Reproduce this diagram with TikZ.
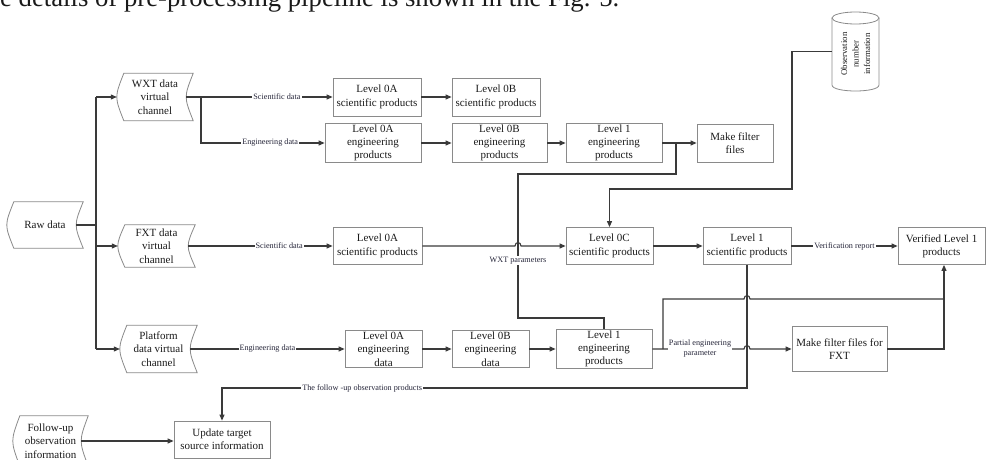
\documentclass[tikz,border=0pt]{standalone}
\usepackage{fontspec}
\setmainfont{Liberation Serif}
\usetikzlibrary{arrows.meta,calc}
\definecolor{boxgray}{HTML}{8A8A8A}
\definecolor{linegray}{HTML}{3A3A3A}
\definecolor{txtcol}{HTML}{1A1A1A}
\definecolor{labcol}{HTML}{26263A}
\begin{document}
\begin{tikzpicture}[x=1pt,y=-1pt,
  box/.style={draw=boxgray, line width=0.8pt, align=center, text=txtcol,
    font=\fontsize{11}{13.3}\selectfont, inner sep=1pt},
  sdnode/.style={align=center, text=txtcol, inner sep=0pt,
    font=\fontsize{11}{13.3}\selectfont},
  sdline/.style={draw=boxgray, line width=0.8pt},
  conn/.style={draw=linegray, line width=1.1pt},
  arr/.style={conn, -{Triangle[length=6pt,width=5pt]}},
  lab/.style={fill=white, inner sep=1pt, text=labcol,
    font=\fontsize{8.2}{10}\selectfont}
]
\useasboundingbox (0,0) rectangle (986,460);
\clip (0,0) rectangle (986,460);

% header line (cut off at the top of the picture)
\node[anchor=base west, inner sep=0pt, text=txtcol,
  font=\fontsize{26.7}{32}\selectfont] (hdr) at (0,7)
  {e details of pre-processing pipeline is shown in the Fig. 5.};

% stored-data shapes
\node[sdnode, minimum width=76pt, minimum height=47pt] (wxt)  at (155,97)   {WXT data\\virtual\\channel};
\node[sdnode, minimum width=76pt, minimum height=46pt] (raw)  at (45,225)   {Raw data};
\node[sdnode, minimum width=77pt, minimum height=42pt] (fxt)  at (156.5,246) {FXT data\\virtual\\channel};
\node[sdnode, minimum width=77pt, minimum height=47pt] (plat) at (158.5,349) {Platform\\data virtual\\channel};
\node[sdnode, minimum width=75pt, minimum height=50pt] (fol)  at (50.5,441) {Follow-up\\observation\\information};
\foreach \n in {wxt,raw,fxt,plat,fol}{
  \draw[sdline] ($(\n.north west)+(7,0)$) -- (\n.north east)
    .. controls ($(\n.east)+(-9.33,0)$) .. (\n.south east)
    -- ($(\n.south west)+(7,0)$)
    .. controls ($(\n.west)+(-2.33,0)$) .. ($(\n.north west)+(7,0)$) -- cycle;
}
\coordinate (wxtR) at ($(wxt.east)+(-7,0)$);
\coordinate (rawR) at ($(raw.east)+(-7,0)$);
\coordinate (fxtR) at ($(fxt.east)+(-7,0)$);
\coordinate (platR) at ($(plat.east)+(-7,0)$);
\coordinate (folR) at ($(fol.east)+(-7,0)$);

% cylinder
\draw[sdline] (855.5,18) ellipse [x radius=23.5pt, y radius=6pt];
\draw[sdline] (832,18) -- (832,85) .. controls (832,93) and (879,93) .. (879,85) -- (879,18);
\node[minimum width=47pt, minimum height=79pt, inner sep=0pt] (cylbody) at (855.5,51.5) {};
\node[rotate=90, align=center, inner sep=0pt, text=txtcol,
  font=\fontsize{8.8}{11.5}\selectfont] (cyltxt) at (855.5,54) {Observation\\number\\information};

% boxes
\node[box, minimum width=88pt, minimum height=38pt] (sA0) at (377,97)   {Level 0A\\scientific products};
\node[box, minimum width=88pt, minimum height=38pt] (sB0) at (496,97)   {Level 0B\\scientific products};
\node[box, minimum width=96pt, minimum height=38pt] (eA0) at (373,143)  {Level 0A\\engineering\\products};
\node[box, minimum width=95pt, minimum height=38pt] (eB0) at (499.5,143) {Level 0B\\engineering\\products};
\node[box, minimum width=96pt, minimum height=38pt] (eL1) at (614,143)  {Level 1\\engineering\\products};
\node[box, minimum width=76pt, minimum height=38pt] (mff) at (735,143)  {Make filter\\files};
\node[box, minimum width=89pt, minimum height=37pt] (fA0) at (377.5,246) {Level 0A\\scientific products};
\node[box, minimum width=87pt, minimum height=37pt] (fC0) at (609.5,246) {Level 0C\\scientific products};
\node[box, minimum width=88pt, minimum height=37pt] (fL1) at (747,246)  {Level 1\\scientific products};
\node[box, minimum width=87pt, minimum height=37pt] (ver) at (941.5,246) {Verified Level 1\\products};
\node[box, minimum width=77pt, minimum height=37pt] (pA0) at (383.5,349) {Level 0A\\engineering\\data};
\node[box, minimum width=77pt, minimum height=37pt] (pB0) at (490.5,349) {Level 0B\\engineering\\data};
\node[box, minimum width=96pt, minimum height=37pt] (pL1) at (604,349)  {Level 1\\engineering\\products};
\node[box, minimum width=95pt, minimum height=45pt] (mffx) at (839.5,349) {Make filter files for\\FXT};
\node[box, minimum width=96pt, minimum height=37pt] (upd) at (222,439.5) {Update target\\source information};

% trunk from raw data
\coordinate (tT) at (96,97);
\coordinate (tB) at (96,349);
\draw[conn] (tT) -- (tB);
\draw[conn] (rawR) -- (rawR -| tT);
\draw[arr] (tT) -- (wxt.west);
\draw[arr] (tT |- fxt.west) -- (fxt.west);
\draw[arr] (tB) -- (plat.west);

% WXT rows
\coordinate (wb) at (201,97);
\draw[arr] (wxtR) -- node[lab, pos=0.62] {Scientific data} (sA0.west);
\draw[arr] (wb) |- node[lab, pos=0.78] {Engineering data} (eA0.west);
\draw[arr] (sA0) -- (sB0);
\draw[arr] (eA0) -- (eB0);
\draw[arr] (eB0) -- (eL1);
\draw[arr] (eL1) -- (mff);

% WXT parameters
\coordinate (p1) at (676,143);
\coordinate (p2) at (676,174);
\coordinate (p3) at (518,174);
\coordinate (p4) at (518,318);
\coordinate (p5) at (604,318);
\draw[conn] (p1) -- (p2) -- (p3) -- node[lab, pos=0.60] {WXT parameters} (p4) -- (p5) -- (pL1.north);

% observation number information
\coordinate (c2) at (792,189);
\draw[arr] (cylbody.west) -| (c2) -| (fC0.north);

% FXT row
\draw[arr] (fxtR) -- node[lab, pos=0.63] {Scientific data} (fA0.west);
\draw[arr] (fA0.east) -- (515,246) .. controls (515,241.5) and (521,241.5) .. (521,246) -- (fC0.west);
\draw[arr] (fC0) -- (fL1);
\draw[arr] (fL1) -- node[lab, pos=0.5] {Verification report} (ver);

% follow-up observation products
\coordinate (fb) at (747,388);
\coordinate (fc) at (222,388);
\draw[arr] (fL1.south) -- (fb) -- node[lab, pos=0.733] {The follow -up observation products} (fc) -- (upd.north);
\draw[arr] (folR) -- (folR -| upd.west);

% platform row
\draw[arr] (platR) -- node[lab, pos=0.5] {Engineering data} (pA0.west);
\draw[arr] (pA0) -- (pB0);
\draw[arr] (pB0) -- (pL1);
\draw[arr] (pL1.east) -- node[lab, pos=0.52, align=center] {Partial engineering\\parameter} (744,349)
  .. controls (744,344.5) and (750,344.5) .. (750,349) -- (mffx.west);
\coordinate (pj) at (663,349);
\coordinate (pk) at (663,299);
\coordinate (j3) at (944,299);
\draw[conn] (pj) -- (pk) -- (744,299) .. controls (744,294.5) and (750,294.5) .. (750,299) -- (j3);
\draw[arr] (j3) -- (j3 |- ver.south);
\draw[conn] (mffx.east) -| (j3);
\end{tikzpicture}
\end{document}
